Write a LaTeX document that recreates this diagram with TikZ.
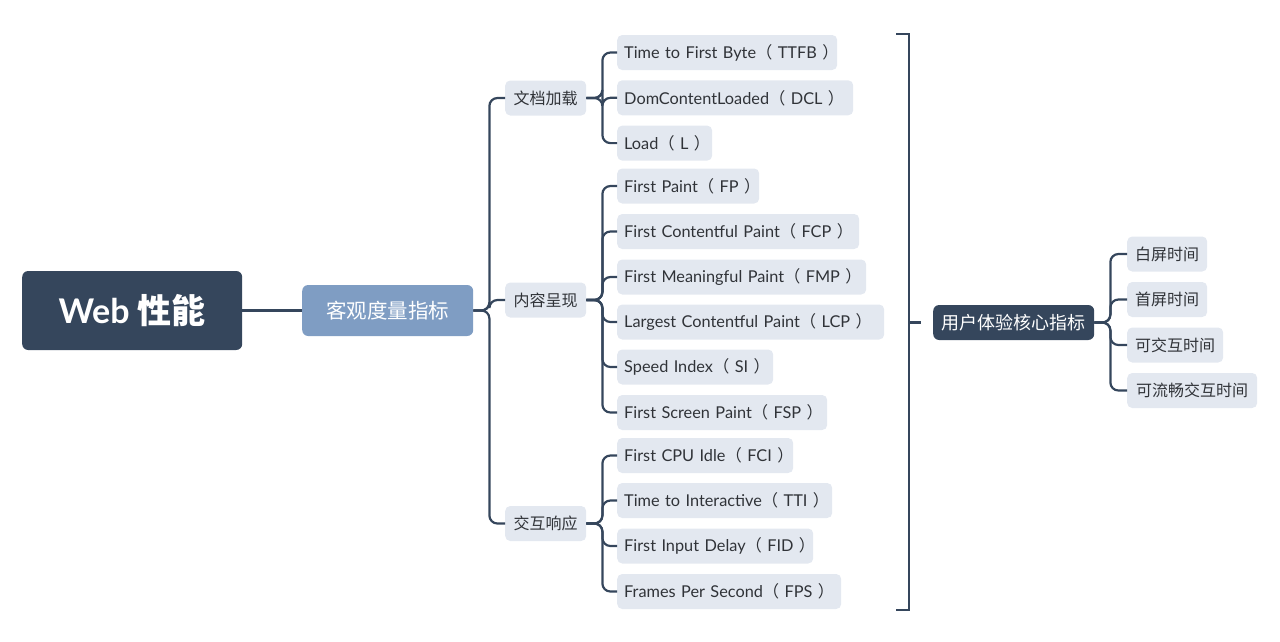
\documentclass[tikz,border=0pt]{standalone}
\usepackage{fontspec}
\setmainfont{Lato}
\newfontfamily\cjk{Noto Sans CJK SC}
\definecolor{navy}{HTML}{35465C}
\definecolor{midblue}{HTML}{7F9DC3}
\definecolor{pale}{HTML}{E3E8F0}
\definecolor{ink}{HTML}{303338}
\newcommand{\lp}{{\cjk （}}
\newcommand{\rp}{{\cjk ）}}
\tikzset{
  x=1pt, y=-1pt,
  box/.style={rounded corners=5pt, anchor=west, inner ysep=0pt, minimum height=35pt},
  leaf/.style={box, fill=pale, text=ink, font=\fontsize{16.3}{19}\selectfont,
    inner xsep=7pt, text width=#1, align=left},
  midbox/.style={box, fill=pale, text=ink, minimum width=81pt, inner xsep=0pt,
    font=\cjk\fontsize{16}{19}\selectfont},
  rleaf/.style={box, fill=pale, text=ink, minimum width=#1, inner xsep=0pt,
    font=\cjk\fontsize{16}{19}\selectfont},
  conn/.style={draw=navy, line width=2.2pt, rounded corners=8pt},
  bracket/.style={draw=navy, line width=2.2pt},
}
\begin{document}
\begin{tikzpicture}
\useasboundingbox (0,0) rectangle (1280,641);
% root
\node[box, fill=navy, text=white, minimum width=220pt, minimum height=79pt, rounded corners=6pt,
  inner xsep=0pt, font=\fontsize{34}{38}\selectfont\bfseries] (web) at (22,310.5) {Web {\cjk 性能}};
\node[box, fill=midblue, text=white, minimum width=171pt, minimum height=51pt, rounded corners=6pt,
  inner xsep=0pt, font=\cjk\fontsize{20.5}{24}\selectfont] (obj) at (302,310.5) {客观度量指标};
% level 2
\node[midbox] (doc) at (505,98) {文档加载};
\node[midbox] (con) at (505,300) {内容呈现};
\node[midbox] (int) at (505,523.5) {交互响应};
% leaves
\node[leaf=206pt] (ttfb) at (617,52.5) {\mbox{Time to First Byte\lp{} TTFB \rp}};
\node[leaf=222pt] (dcl) at (617,97.8) {\mbox{DomContentLoaded\lp{} DCL \rp}};
\node[leaf=81pt] (load) at (617,143.1) {\mbox{Load\lp{} L \rp}};
\node[leaf=128pt] (fp) at (617,186) {\mbox{First Paint\lp{} FP \rp}};
\node[leaf=228pt] (fcp) at (617,231.5) {\mbox{First Contentful Paint\lp{} FCP \rp}};
\node[leaf=235pt] (fmp) at (617,277) {\mbox{First Meaningful Paint\lp{} FMP \rp}};
\node[leaf=253pt] (lcp) at (617,322) {\mbox{Largest Contentful Paint\lp{} LCP \rp}};
\node[leaf=142pt] (si) at (617,367) {\mbox{Speed Index\lp{} SI \rp}};
\node[leaf=196pt] (fsp) at (617,412.5) {\mbox{First Screen Paint\lp{} FSP \rp}};
\node[leaf=162pt] (fci) at (617,455.5) {\mbox{First CPU Idle\lp{} FCI \rp}};
\node[leaf=201pt] (tti) at (617,500.5) {\mbox{Time to Interactive\lp{} TTI \rp}};
\node[leaf=182pt] (fid) at (617,546) {\mbox{First Input Delay\lp{} FID \rp}};
\node[leaf=210pt] (fps) at (617,591.5) {\mbox{Frames Per Second\lp{} FPS \rp}};
% right side
\node[box, fill=navy, text=white, minimum width=161pt, rounded corners=6pt, inner xsep=0pt,
  font=\cjk\fontsize{18}{22}\selectfont] (ux) at (933,322.5) {用户体验核心指标};
\node[rleaf=80pt] (bp) at (1127,254) {白屏时间};
\node[rleaf=80pt] (sp) at (1127,299.5) {首屏时间};
\node[rleaf=96pt] (jh) at (1127,345) {可交互时间};
\node[rleaf=130pt] (lc) at (1127,390.5) {可流畅交互时间};
% bracket coordinates
\coordinate (bt) at (896,34);
\coordinate (bb) at (896,610);
\coordinate (bm) at (909,322.5);
\coordinate (tk) at (921,322.5);
% connectors
\draw[conn] (web.east) -- (obj.west);
\foreach \c in {doc,con,int} \draw[conn] (obj.east) -- ++(16,0) |- (\c.west);
\foreach \c in {ttfb,dcl,load} \draw[conn] (doc.east) -- ++(16,0) |- (\c.west);
\foreach \c in {fp,fcp,fmp,lcp,si,fsp} \draw[conn] (con.east) -- ++(16,0) |- (\c.west);
\foreach \c in {fci,tti,fid,fps} \draw[conn] (int.east) -- ++(16,0) |- (\c.west);
\foreach \c in {bp,sp,jh,lc} \draw[conn] (ux.east) -- ++(16,0) |- (\c.west);
\draw[bracket] (bt) -- ++(13,0) |- (bb);
\draw[bracket] (bm) -- (tk);
\end{tikzpicture}
\end{document}
